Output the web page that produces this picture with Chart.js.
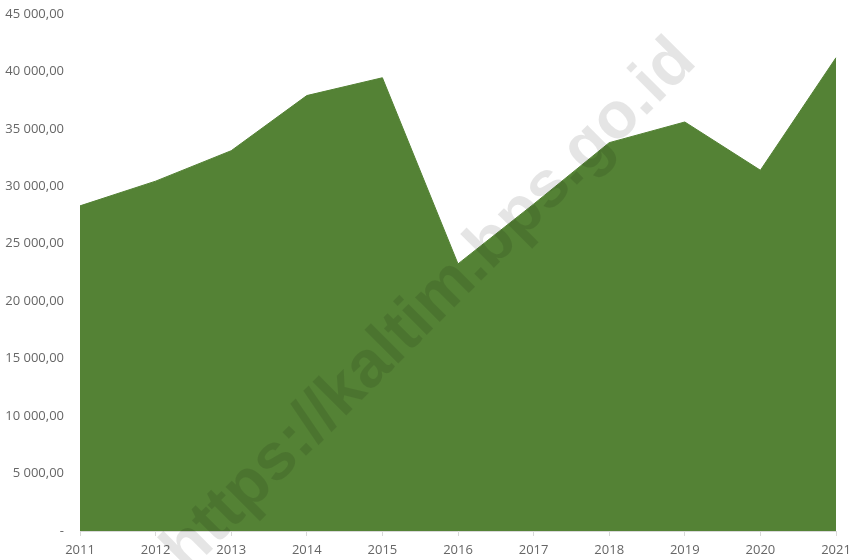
<!DOCTYPE html>
<html>
<head>
<meta charset="utf-8">
<script src="https://cdn.jsdelivr.net/npm/chart.js@4"></script>
<style>
  html, body { margin: 0; padding: 0; background: #fff; }
  #wrap { width: 854px; height: 560px; }
</style>
</head>
<body>
<div id="wrap"><canvas id="chart" width="854" height="560"></canvas></div>
<script>
// data
const years = ['2011', '2012', '2013', '2014', '2015', '2016', '2017', '2018', '2019', '2020', '2021'];
const values = [28300, 30450, 33100, 37900, 39450, 23250, 28450, 33800, 35600, 31400, 41200];
const yTicks = [0, 5000, 10000, 15000, 20000, 25000, 30000, 35000, 40000, 45000];
const watermark = 'https://kaltim.bps.go.id';

// "45 000,00" style labels, zero shown as a dash
const formatValue = (v) => {
    if (v === 0) return '-';
    const whole = Math.round(v).toString().replace(/\B(?=(\d{3})+(?!\d))/g, ' ');
    return whole + ',00';
};

// rotated watermark drawn on top of everything
const watermarkPlugin = {
    id: 'watermark',
    afterDraw(chart) {
        const ctx = chart.ctx;
        ctx.save();
        ctx.translate(430, 306);
        ctx.rotate(-45 * Math.PI / 180);
        ctx.font = 'bold 66px "Liberation Sans", Arial, sans-serif';
        ctx.fillStyle = 'rgba(0, 0, 0, 0.1)';
        ctx.textAlign = 'center';
        ctx.textBaseline = 'middle';
        ctx.fillText(watermark, 0, 0);
        ctx.restore();
    }
};

const ctx = document.getElementById('chart').getContext('2d');
new Chart(ctx, {
    type: 'line',
    data: {
        labels: years,
        datasets: [{
            data: values,
            borderColor: '#548235',
            backgroundColor: '#548235',
            borderWidth: 1,
            pointRadius: 0,
            tension: 0,
            fill: 'origin'
        }]
    },
    options: {
        responsive: false,
        animation: false,
        layout: { padding: { top: 14, right: 18, left: 0, bottom: 0 } },
        plugins: {
            legend: { display: false },
            tooltip: { enabled: false }
        },
        scales: {
            x: {
                offset: false,
                afterFit(scale) {
                    scale.height = 29;
                    scale.paddingLeft = 0;
                    scale.paddingRight = 0;
                },
                grid: {
                    drawOnChartArea: false,
                    drawTicks: true,
                    tickLength: 5,
                    color: '#d9d9d9'
                },
                border: { color: '#d9d9d9' },
                ticks: {
                    color: '#666',
                    padding: 6,
                    maxRotation: 0,
                    font: { family: '"Open Sans", sans-serif', size: 13 }
                }
            },
            y: {
                min: 0,
                max: 45000,
                afterFit(scale) {
                    scale.width = 80;
                    scale.paddingTop = 0;
                    scale.paddingBottom = 0;
                },
                afterBuildTicks(scale) { scale.ticks = yTicks.map(v => ({ value: v })); },
                grid: { display: false, drawTicks: false },
                border: { display: false },
                ticks: {
                    color: '#666',
                    padding: 16,
                    callback: (v) => formatValue(v),
                    font: { family: '"Open Sans", sans-serif', size: 13 }
                }
            }
        }
    },
    plugins: [watermarkPlugin]
});
</script>
</body>
</html>
